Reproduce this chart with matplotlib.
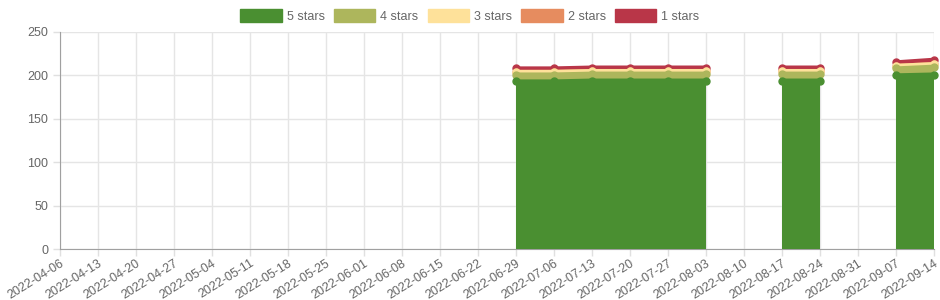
import numpy as np
import matplotlib
matplotlib.use("Agg")
import matplotlib.pyplot as plt
from matplotlib.patches import Patch

nan = np.nan
dates = ["2022-04-06", "2022-04-13", "2022-04-20", "2022-04-27", "2022-05-04",
         "2022-05-11", "2022-05-18", "2022-05-25", "2022-06-01", "2022-06-08",
         "2022-06-15", "2022-06-22", "2022-06-29", "2022-07-06", "2022-07-13",
         "2022-07-20", "2022-07-27", "2022-08-03", "2022-08-10", "2022-08-17",
         "2022-08-24", "2022-08-31", "2022-09-07", "2022-09-14"]

stars5 = [nan]*12 + [193, 193, 194, 194, 194, 194, nan, 194, 194, nan, 200, 201]
stars4 = [nan]*12 + [8, 8, 8, 8, 8, 8, nan, 8, 8, nan, 8, 9]
stars3 = [nan]*12 + [3, 3, 3, 3, 3, 3, nan, 3, 3, nan, 3, 3]
stars2 = [nan]*12 + [0, 0, 0, 0, 0, 0, nan, 0, 0, nan, 0, 0]
stars1 = [nan]*12 + [4, 4, 4, 4, 4, 4, nan, 4, 4, nan, 4, 5]

labels = ["5 stars", "4 stars", "3 stars", "2 stars", "1 stars"]
colors = ["#4a8f31", "#adb65c", "#fee19a", "#e68c5f", "#b93648"]
series = [stars5, stars4, stars3, stars2, stars1]

plt.rcParams['font.family'] = ['Liberation Sans', 'DejaVu Sans']
fig = plt.figure(figsize=(9.4, 3.0), dpi=100)
ax = fig.add_axes([60/940, 51/300, 874/940, 217/300])

x = np.arange(len(dates))
n = len(series)
base = np.zeros(len(dates))
for i, (vals, col) in enumerate(zip(series, colors)):
    top = base + np.array(vals, dtype=float)
    z = 2 + (n - i) * 3  # first dataset drawn on top
    ax.fill_between(x, base, top, color=col, linewidth=0, zorder=z)
    ax.plot(x, top, color=col, linewidth=3, zorder=z + 1, solid_capstyle='round', clip_on=False)
    ax.plot(x, top, 'o', color=col, markersize=5, zorder=z + 2, clip_on=False)
    base = top

ax.set_xlim(0, len(dates) - 1)
ax.set_ylim(0, 250)
ax.set_yticks([0, 50, 100, 150, 200, 250])
ax.set_xticks(x)
ax.set_xticklabels(dates, rotation=32, ha='right', rotation_mode='anchor')
ax.tick_params(axis='both', colors='#e0e0e0', labelcolor='#666666', labelsize=9, length=5, width=1)
ax.tick_params(axis='x', pad=1)
ax.grid(True, color='#e5e5e5', linewidth=1, zorder=0)
ax.set_axisbelow(True)
for s in ['top', 'right']:
    ax.spines[s].set_visible(False)
for s in ['left', 'bottom']:
    ax.spines[s].set_color('#a0a0a0')

handles = [Patch(facecolor=c, edgecolor=c, label=l, alpha=1) for c, l in zip(colors, labels)]
fig.legend(handles=handles, loc='upper center', bbox_to_anchor=(0.5, 1.0), ncol=5,
           frameon=False, fontsize=9, labelcolor='#666666', handlelength=3.3,
           handleheight=1.2, handletextpad=0.4, columnspacing=0.75, borderaxespad=0.35)

fig.savefig("out.png", dpi=100)
